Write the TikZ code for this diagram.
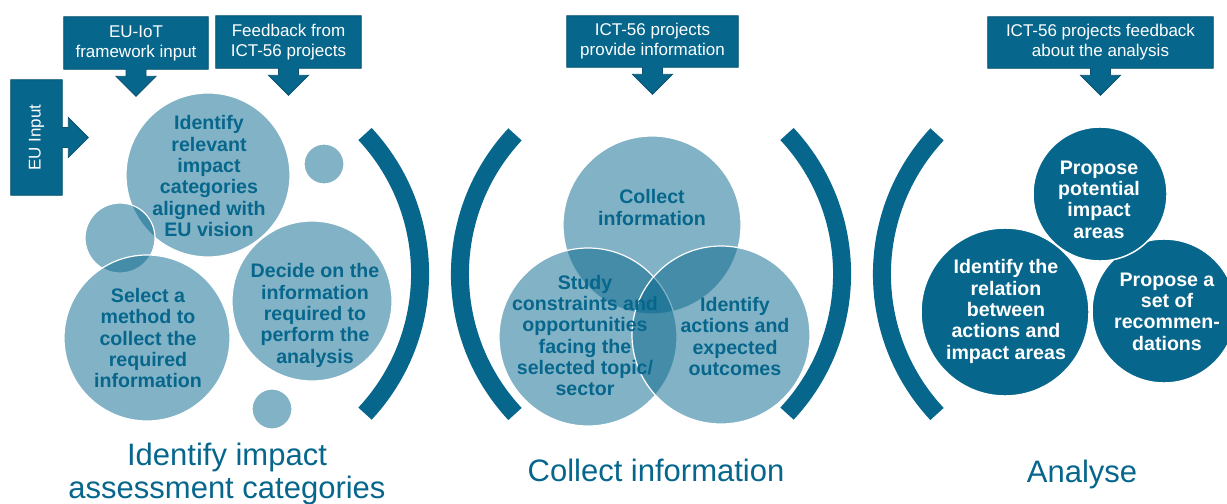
\documentclass[tikz,border=0pt]{standalone}
\usepackage{fontspec}
\setmainfont{Liberation Sans}
\usetikzlibrary{calc,backgrounds}
\definecolor{dkblue}{RGB}{6,102,140}
\definecolor{boxline}{RGB}{12,84,112}
\begin{document}
\begin{tikzpicture}[x=0.75pt,y=-0.75pt,
  lightc/.style={circle,fill=dkblue,fill opacity=0.5,draw=white,draw opacity=1,line width=0.9pt,inner sep=0pt},
  darkc/.style={circle,fill=dkblue,draw=white,line width=1.1pt,inner sep=0pt},
  ltext/.style={align=center,text=dkblue,font=\bfseries\fontsize{14.7}{16}\selectfont,inner sep=0pt},
  dtext/.style={align=center,text=white,font=\bfseries\fontsize{14.7}{16}\selectfont,inner sep=0pt},
  boxtext/.style={align=center,text=white,font=\fontsize{12.75}{15}\selectfont,inner sep=0pt},
  callout/.style={fill=dkblue,draw=boxline,line width=0.6pt,line join=miter},
  bracket/.style={draw=dkblue,line width=13.5pt},
  stage/.style={text=dkblue,font=\fontsize{23.25}{24.75}\selectfont,align=center,inner sep=0pt}
]
\useasboundingbox (0,0) rectangle (1227,503);

% ---------- top input boxes ----------
\node[boxtext,minimum width=108pt,minimum height=39pt] (b1) at (136,43) {EU-IoT\\framework input};
\node[boxtext,minimum width=108.75pt,minimum height=39pt] (b2) at (288.5,42) {Feedback from\\ICT-56 projects};
\node[boxtext,minimum width=128.25pt,minimum height=38.25pt] (b3) at (652.5,41.5) {ICT-56 projects\\provide information};
\node[boxtext,minimum width=168.75pt,minimum height=38.25pt] (b4) at (1100.5,42.5) {ICT-56 projects feedback\\about the analysis};
\node[boxtext,rotate=90,minimum width=86.25pt,minimum height=38.25pt] (b5) at (36.5,137.5) {EU Input};

\begin{pgfonlayer}{background}
\foreach \b in {b1,b2,b3,b4}{
  \path[callout] (\b.north west) -- (\b.north east) -- (\b.south east)
    -- ($(\b.south)+(10,0)$) -- ($(\b.south)+(10,7)$) -- ($(\b.south)+(20,7)$)
    -- ($(\b.south)+(0,27)$) -- ($(\b.south)+(-20,7)$) -- ($(\b.south)+(-10,7)$)
    -- ($(\b.south)+(-10,0)$) -- (\b.south west) -- cycle;
}
% b5 is rotated: its south side is the right edge on the page
\path[callout] (b5.north east) -- (b5.south east)
    -- ($(b5.south)+(0,-10)$) -- ($(b5.south)+(6,-10)$) -- ($(b5.south)+(6,-20)$)
    -- ($(b5.south)+(26,0)$) -- ($(b5.south)+(6,20)$) -- ($(b5.south)+(6,10)$)
    -- ($(b5.south)+(0,10)$) -- (b5.south west) -- (b5.north west) -- cycle;
\end{pgfonlayer}

% ---------- brackets ----------
\draw[bracket] (365,134) arc[start angle=-43,end angle=43,radius=205];
\draw[bracket] (515,414) arc[start angle=137,end angle=223,radius=205];
\draw[bracket] (787,134) arc[start angle=-43,end angle=43,radius=205];
\draw[bracket] (937,414) arc[start angle=137,end angle=223,radius=205];

% ---------- left group ----------
\node[lightc,minimum size=123pt] (c1) at (208,175) {};
\node[lightc,minimum size=30pt] (cs1) at (324,164) {};
\node[lightc,minimum size=52.5pt] (cs2) at (120,238) {};
\node[lightc,minimum size=124.5pt] (c2) at (147,338) {};
\node[lightc,minimum size=120pt] (c3) at (312,301) {};
\node[lightc,minimum size=30pt] (cs3) at (272,409) {};
\node[ltext] (t1) at (209,176) {Identify\\relevant\\impact\\categories\\aligned with\\EU vision};
\node[ltext] (t2) at (148,338) {Select a\\method to\\collect the\\required\\information};
\node[ltext] (t3) at (315,315.5) {Decide on the\\information\\required to\\perform the\\analysis};

% ---------- middle group ----------
\node[lightc,minimum size=133.5pt] (v1) at (652,225) {};
\node[lightc,minimum size=133.5pt] (v2) at (588,337) {};
\node[lightc,minimum size=133.5pt] (v3) at (721,335) {};
\node[ltext] (t4) at (652,207.5) {Collect\\information};
\node[ltext] (t5) at (585,335.5) {Study\\constraints and\\opportunities\\facing the\\selected topic/\\sector};
\node[ltext] (t6) at (735,336.5) {Identify\\actions and\\expected\\outcomes};

% ---------- right group ----------
\node[darkc,minimum size=126pt] (d2) at (1005,312) {};
\node[darkc,minimum size=108pt] (d3) at (1164,311) {};
\node[darkc,minimum size=100.5pt] (d1) at (1100,194) {};
\node[dtext] (t7) at (1099,199.5) {Propose\\potential\\impact\\areas};
\node[dtext] (t8) at (1006,311.5) {Identify the\\relation\\between\\actions and\\impact areas};
\node[dtext] (t9) at (1167,311.5) {Propose a\\set of\\recommen-\\dations};

% ---------- stage labels ----------
\node[stage] (s1) at (227,473.5) {Identify impact\\assessment categories};
\node[stage,anchor=base] (s2) at (656,481) {Collect information};
\node[stage,anchor=base] (s3) at (1082,482) {Analyse};
\end{tikzpicture}
\end{document}
